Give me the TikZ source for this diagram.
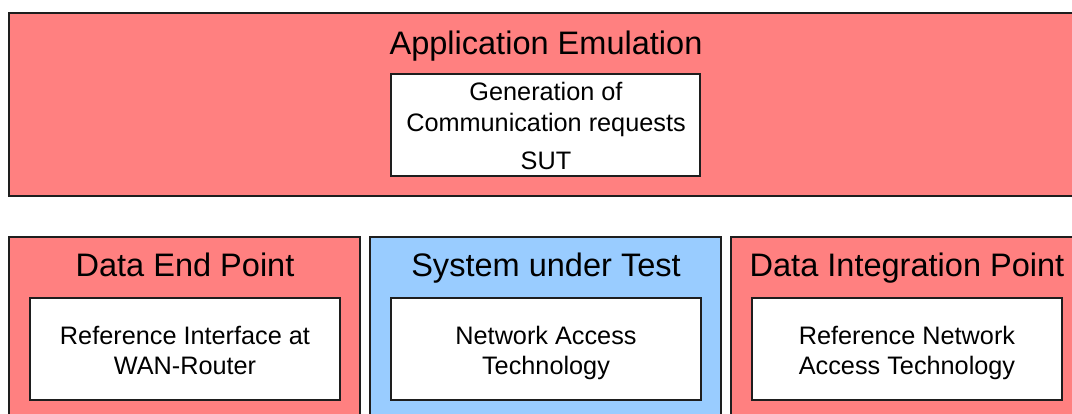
\documentclass[tikz,border=0pt]{standalone}
\usepackage{fontspec}
\setmainfont{Liberation Sans}
\definecolor{boxred}{RGB}{255,128,128}
\definecolor{boxblue}{RGB}{153,204,255}
\definecolor{edge}{RGB}{30,30,30}
\begin{document}
\begin{tikzpicture}[x=0.75pt,y=-0.75pt,
  redbox/.style={draw=edge,line width=1.1pt,fill=boxred},
  bluebox/.style={draw=edge,line width=1.1pt,fill=boxblue},
  whitebox/.style={draw=edge,line width=1.1pt,fill=white},
  titletext/.style={anchor=base,inner sep=0pt,font=\fontsize{24.4}{28}\selectfont},
  bodytext/.style={anchor=base,inner sep=0pt,font=\fontsize{18.95}{22.5}\selectfont}]
\useasboundingbox (0,0) rectangle (1072,414);
\clip (0,0) rectangle (1072,414);
% top
\draw[redbox] (9,13) rectangle (1085,196);
\node[titletext] (appt) at (546,54) {Application Emulation};
\draw[whitebox] (391,74) rectangle (700,176);
\node[bodytext] (g1) at (546,100) {Generation of};
\node[bodytext] (g2) at (546,131) {Communication requests};
\node[bodytext] (g3) at (546,169) {SUT};
% bottom left
\draw[redbox] (9,237) rectangle (360,425);
\node[titletext] (dep) at (185,276) {Data End Point};
\draw[whitebox] (30,298) rectangle (340,400);
\node[bodytext] (l1) at (185,344) {Reference Interface at};
\node[bodytext] (l2) at (185,374) {WAN-Router};
% bottom middle
\draw[bluebox] (370,237) rectangle (721,425);
\node[titletext] (sut) at (546,276) {System under Test};
\draw[whitebox] (391,298) rectangle (701,400);
\node[bodytext] (m1) at (546,344) {Network Access};
\node[bodytext] (m2) at (546,374) {Technology};
% bottom right
\draw[redbox] (731,237) rectangle (1085,425);
\node[titletext] (dip) at (907,276) {Data Integration Point};
\draw[whitebox] (752,298) rectangle (1062,400);
\node[bodytext] (r1) at (907,344) {Reference Network};
\node[bodytext] (r2) at (907,374) {Access Technology};
\end{tikzpicture}
\end{document}
